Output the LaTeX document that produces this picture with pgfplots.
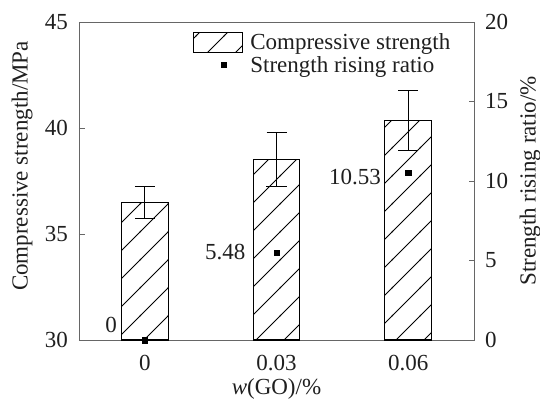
\documentclass[border=0pt]{standalone}
\usepackage{pgfplots}
\pgfplotsset{compat=1.18}
\usepackage{fontspec}
\setmainfont{Liberation Serif}
\usetikzlibrary{patterns.meta}
\tikzdeclarepattern{
  name=hatch,
  type=uncolored,
  bounding box={(-1bp,-1bp) and (29bp,29bp)},
  tile size={(28bp,28bp)},
  code={
    \draw[line width=0.9bp] (-1bp,-1bp) -- (29bp,29bp);
  }
}
\newcommand\myfont{\fontsize{23bp}{27.5bp}\selectfont}
\definecolor{axgray}{gray}{0.4}
\definecolor{txt}{gray}{0.12}
\pgfplotsset{
  barlegend/.style={legend image code/.code={\draw[##1] (0bp,-10bp) rectangle (49bp,10bp);}},
  marklegend/.style={legend image code/.code={\coordinate (la) at (0bp,0bp); \coordinate (lb) at (49bp,0bp); \path[##1] plot coordinates {(30bp,0bp)};}},
}

\pgfplotstableread{
x y e
0 36.50 0.76
1 38.50 1.28
2 40.35 1.43
}\strength
\pgfplotstableread{
x r
0 0
1 5.48
2 10.53
}\ratio

\begin{document}
\begin{tikzpicture}
\useasboundingbox (-79bp,-60bp) rectangle (461bp,340bp);
\begin{axis}[
  scale only axis, width=395bp, height=318bp,
  xmin=-0.5, xmax=2.5, ymin=30, ymax=45,
  xtick={0,1,2}, xticklabels={0,0.03,0.06},
  ytick={30,35,40,45}, ytick pos=left,
  /pgf/number format/assume math mode=true,
  tick align=inside, major tick length=6bp,
  xtick style={draw=none},
  axis line style={axgray, line width=0.9bp},
  every tick/.style={axgray, line width=0.9bp},
  tick label style={font=\myfont, text=txt},
  xticklabel style={inner sep=0pt, yshift=-15bp},
  yticklabel style={inner sep=0pt, xshift=-11bp},
  ylabel={Compressive strength/MPa},
  ylabel style={at={(axis description cs:-0.144,0.547)}, anchor=center, font=\myfont, text=txt},
  xlabel={\textit{w}(GO)/\%},
  xlabel style={at={(axis description cs:0.5,-0.155)}, anchor=center, font=\myfont, text=txt},
]
\addplot[ybar, bar width=0.353, draw=black, line width=1.1bp,
  pattern=hatch, pattern color=black,
  error bars/.cd, y dir=both, y explicit,
  error bar style={line width=1bp, black},
  error mark options={rotate=90, mark size=10bp, line width=1bp, black}]
  table[x=x, y=y, y error=e] {\strength};
\end{axis}
\begin{axis}[
  scale only axis, width=395bp, height=318bp,
  xmin=-0.5, xmax=2.5, ymin=0, ymax=20,
  axis y line*=right, axis x line=none,
  ytick={0,5,10,15,20},
  /pgf/number format/assume math mode=true,
  tick align=inside, major tick length=5bp,
  axis line style={axgray, line width=0.9bp},
  every tick/.style={axgray, line width=0.9bp},
  tick label style={font=\myfont, text=txt},
  yticklabel style={inner sep=0pt, xshift=11bp},
  ylabel={Strength rising ratio/\%},
  ylabel style={at={(axis description cs:1.142,0.5)}, anchor=center, font=\myfont, text=txt},
  legend style={at={(axis description cs:0.289,0.97)}, anchor=north west,
    draw=none, fill=none, font=\myfont, text=txt, row sep=1bp, column sep=5bp, inner sep=0pt},
  legend cell align=left,
]
\addlegendimage{draw=black, line width=1bp, pattern=hatch, pattern color=black, barlegend}
\addlegendentry{Compressive strength}
\addplot[only marks, mark=square*, mark size=2.7bp, black, marklegend]
  table[x=x, y=r] {\ratio};
\addlegendentry{Strength rising ratio}
\node[anchor=east, inner sep=0pt, font=\myfont, text=txt] at (axis cs:-0.21,0.94) {0};
\node[anchor=east, inner sep=0pt, font=\myfont, text=txt] at (axis cs:0.765,5.53) {5.48};
\node[anchor=east, inner sep=0pt, font=\myfont, text=txt] at (axis cs:1.795,10.25) {10.53};
\end{axis}
\end{tikzpicture}
\end{document}
